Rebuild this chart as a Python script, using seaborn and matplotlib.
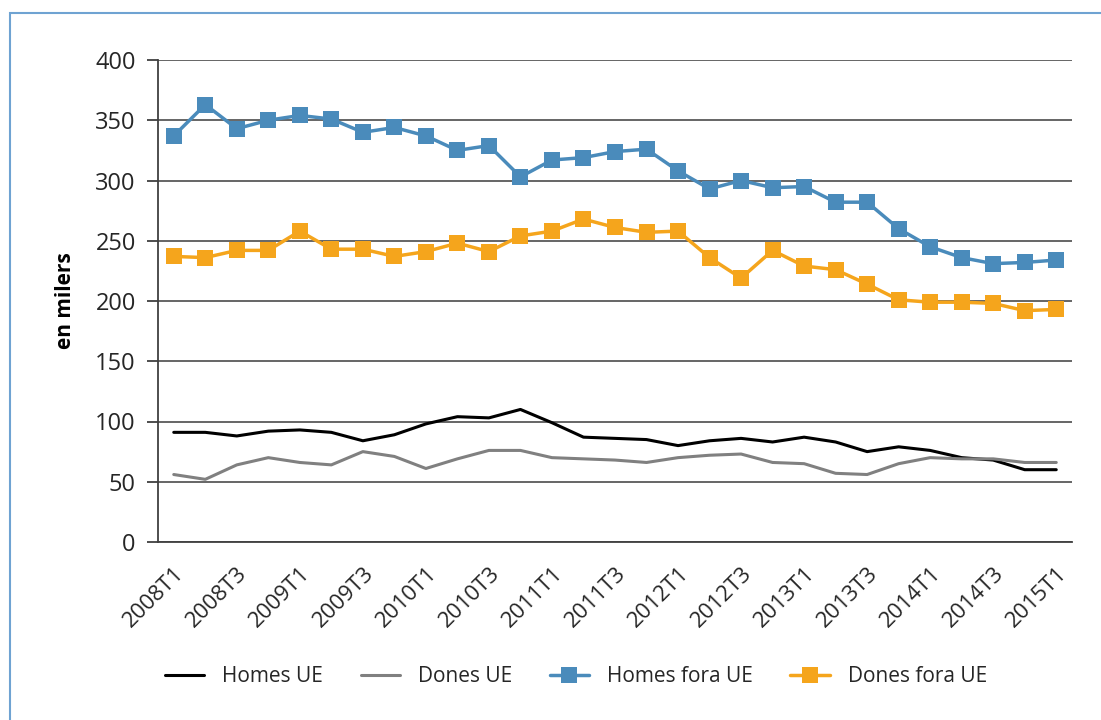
import numpy as np
import pandas as pd
import matplotlib
matplotlib.use('Agg')
import matplotlib.pyplot as plt
import matplotlib.transforms as mtransforms
import seaborn as sns
from matplotlib.patches import Rectangle

# Quarterly data, 2008T1 - 2015T1 (thousands)
quarters = [f"{y}T{q}" for y in range(2008, 2016) for q in range(1, 5)][:29]
homes_ue = [91, 91, 88, 92, 93, 91, 84, 89, 98, 104, 103, 110, 99, 87, 86,
            85, 80, 84, 86, 83, 87, 83, 75, 79, 76, 70, 68, 60, 60]
dones_ue = [56, 52, 64, 70, 66, 64, 75, 71, 61, 69, 76, 76, 70, 69, 68,
            66, 70, 72, 73, 66, 65, 57, 56, 65, 70, 69, 69, 66, 66]
homes_fora = [337, 363, 343, 350, 354, 351, 340, 344, 337, 325, 329, 303, 317, 319, 324,
              326, 308, 293, 300, 294, 295, 282, 282, 260, 245, 236, 231, 232, 234]
dones_fora = [237, 236, 242, 242, 258, 243, 243, 237, 241, 248, 241, 254, 258, 268, 261,
              257, 258, 236, 219, 242, 229, 226, 214, 201, 199, 199, 198, 192, 193]

series = {
    'Homes UE': (homes_ue, '#000000', None, 2.2),
    'Dones UE': (dones_ue, '#808080', None, 2.2),
    'Homes fora UE': (homes_fora, '#4a8bbb', 's', 2.5),
    'Dones fora UE': (dones_fora, '#f5a51c', 's', 2.5),
}

sns.set_style('white')
plt.rcParams['font.family'] = ['Open Sans', 'DejaVu Sans']

fig = plt.figure(figsize=(11.01, 7.2), dpi=100)
ax = fig.add_axes([158 / 1101, 1 - 542 / 720, (1072 - 158) / 1101, (542 - 60) / 720])

idx = np.arange(len(quarters))
for name, (vals, col, mk, lw) in series.items():
    sns.lineplot(x=idx, y=vals, ax=ax, color=col, linewidth=lw, marker=mk,
                 markersize=11 if mk else 0, markeredgewidth=0, label=name)

ax.set_xlim(-0.5, len(quarters) - 0.5)
ax.set_ylim(0, 400)
ax.set_yticks(range(0, 401, 50))
ax.yaxis.grid(True, color='#595959', linewidth=1.3)
ax.xaxis.grid(False)
ax.set_axisbelow(True)
for s in ['top', 'right']:
    ax.spines[s].set_visible(False)
ax.spines['left'].set_color('#404040')
ax.spines['bottom'].set_color('#404040')
ax.spines['left'].set_linewidth(1.3)
ax.spines['bottom'].set_linewidth(1.3)

# tick marks at category boundaries, labels every other quarter
ax.set_xticks(np.arange(-0.5, len(quarters)), minor=True)
ax.set_xticks(idx[::2])
ax.set_xticklabels(quarters[::2], rotation=45, ha='right', rotation_mode='anchor',
                   fontsize=16, color='#262626')
shift = mtransforms.ScaledTranslation(16 / 100, 0, fig.dpi_scale_trans)
for lab in ax.get_xticklabels():
    lab.set_transform(lab.get_transform() + shift)
ax.tick_params(axis='x', which='major', length=0, pad=15)
ax.tick_params(axis='x', which='minor', length=8, width=1.3, color='#404040', direction='out')
ax.tick_params(axis='y', length=8, width=1.3, color='#404040', direction='out',
               labelsize=17, labelcolor='#262626', pad=8, left=True)
ax.set_ylabel('en milers', fontsize=15, fontweight='bold', labelpad=14, color='#000000')
ax.set_xlabel('')

ax.legend_.remove()
handles, labels = ax.get_legend_handles_labels()
fig.legend(handles, labels, loc='center', bbox_to_anchor=(0.523, 0.06), ncol=4,
           frameon=False, fontsize=15, handlelength=1.9, columnspacing=1.8,
           handletextpad=0.85, labelcolor='#262626')

fig.add_artist(Rectangle((10 / 1101, -0.1), 1.2, 1 - 13 / 720 + 0.1, transform=fig.transFigure,
                         fill=False, edgecolor='#6fa3d2', linewidth=1.5, clip_on=False))

fig.savefig('out.png', dpi=100)
